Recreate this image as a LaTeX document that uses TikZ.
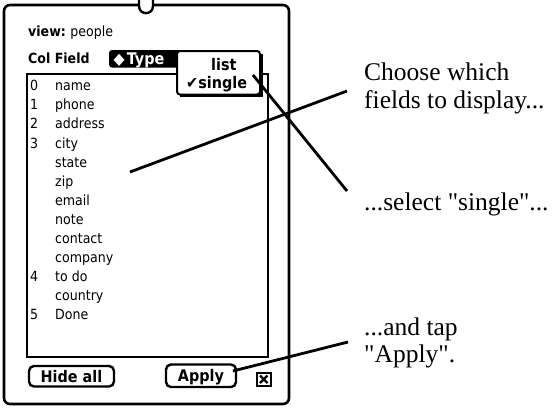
\documentclass[tikz,border=0pt]{standalone}
\usepackage{fontspec}
\setmainfont{Liberation Serif}
\newfontfamily\uifont[FakeStretch=0.9]{DejaVu Sans}
\begin{document}
\begin{tikzpicture}[x=1pt,y=-1pt,
  ui/.style={font=\uifont\fontsize{14}{15}\selectfont, inner sep=0pt, anchor=base west},
  uibold/.style={font=\uifont\bfseries\fontsize{14}{15}\selectfont, inner sep=0pt, anchor=base west},
  popuptext/.style={font=\uifont\bfseries\fontsize{16}{17}\selectfont, inner sep=0pt, anchor=base west},
  buttontext/.style={font=\uifont\bfseries\fontsize{16}{17}\selectfont, inner sep=0pt, anchor=base},
  button/.style={draw, line width=2.4pt, rounded corners=5pt, fill=white},
  note/.style={font=\fontsize{25.5}{27}\selectfont, inner sep=0pt, anchor=base west},
  pointer/.style={line width=2.8pt}
]
\useasboundingbox (0,0) rectangle (555,408);

% outer slip
\draw[line width=2.6pt, rounded corners=6pt, fill=white] (4,5) rectangle (289,404);
% tab at the top edge
\filldraw[fill=white, line width=2.4pt] (139,-2) -- (139,6) .. controls (139,15.5) and (153,15.5) .. (153,6) -- (153,-2);

% header lines
\node[uibold] (viewlbl) at (28,36) {view:};
\node[ui, anchor=base west] (viewval) at (viewlbl.base east) {\ people};
\node[uibold] (colfield) at (28,63) {Col Field};
\fill[rounded corners=3pt] (109,50) rectangle (181,67.5);
\node[popuptext] (typehdr) at (113.5,64.5) {\textcolor{white}{◆\kern2pt Type}};

% field list
\draw[line width=1.2pt] (27,74) rectangle (268,357);
\foreach \n/\t [count=\i from 0] in {0/name,1/phone,2/address,3/city,/state,/zip,/email,/note,/contact,/company,4/to do,/country,5/Done}{
  \node[ui] (num\i) at (30,90.7+19.1*\i) {\n};
  \node[ui] (fld\i) at (55,90.7+19.1*\i) {\t};
}

% popup menu
\fill (180,54) rectangle (262.5,97);
\draw[line width=2pt, rounded corners=3pt, fill=white] (177,51) rectangle (260,94.5);
\node[popuptext] (optlist) at (211,70) {list};
\node[popuptext] (optsingle) at (186,88) {✔single};

% buttons
\draw[button] (29,366) rectangle (114,386.5);
\node[buttontext] (hideall) at (71.5,382) {Hide all};
\draw[button] (166,364.5) rectangle (236,387);
\node[buttontext] (apply) at (201,381.5) {Apply};
\draw[line width=2pt] (257,372.5) rectangle (270.5,386);
\draw[line width=2.2pt] (260,375.5) -- (267.5,383) (267.5,375.5) -- (260,383);

% explanations
\node[note] (choose1) at (364,80) {Choose which};
\node[note] (choose2) at (364,108) {fields to display...};
\node[note] (select) at (364,210) {...select \textquotedbl single\textquotedbl...};
\node[note] (tap1) at (364,335) {...and tap};
\node[note] (tap2) at (364,362) {\textquotedbl Apply\textquotedbl.};

% pointer lines
\coordinate (inlist) at (130,172);
\coordinate (fieldsend) at (347,91);
\coordinate (insingle) at (253,75);
\coordinate (selectend) at (347,191);
\coordinate (inapply) at (233,371);
\coordinate (tapend) at (348,342);
\draw[pointer] (inlist) -- (fieldsend);
\draw[pointer] (insingle) -- (selectend);
\draw[pointer] (inapply) -- (tapend);
\end{tikzpicture}
\end{document}
